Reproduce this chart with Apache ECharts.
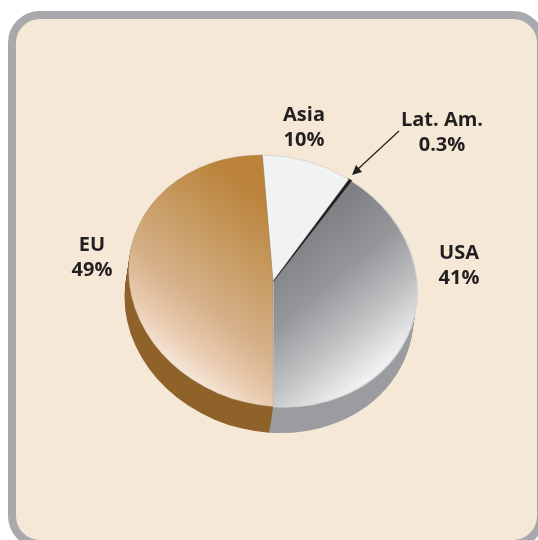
<!DOCTYPE html>
<html>
<head>
<meta charset="utf-8">
<style>
html, body { margin: 0; padding: 0; background: #fff; overflow: hidden; }
#chart { width: 538px; height: 540px; }
</style>
<script src="https://cdn.jsdelivr.net/npm/echarts@6/dist/echarts.min.js"></script>
</head>
<body>
<div id="chart"></div>
<script>
// 数据
var names = ['USA', 'Lat. Am.', 'Asia', 'EU'];
var shares = [41, 0.3, 10, 49];
var shareLabels = ['41%', '0.3%', '10%', '49%'];

var total = shares.reduce(function (a, b) { return a + b; }, 0);
var START_ANGLE = 167; // 从上方顺时针量, 切片逆时针排
var cx = 273, cy = 281, rx = 145.8, ry = 124.5, tilt = -15 * Math.PI / 180;
var depthX = -4, depthY = 26;

// 渐变用 global 坐标, 即扇形自身的局部坐标
var tops = [
	{ type: 'linear', global: true, x: -15, y: -8, x2: 121, y2: 75, colorStops: [
		{ offset: 0, color: '#808185' }, { offset: 0.36, color: '#96979a' },
		{ offset: 0.68, color: '#bfc0c2' }, { offset: 1, color: '#f1f1f2' }] },
	'#231f20',
	'#f1f2f2',
	{ type: 'linear', global: true, x: 30, y: -61, x2: -73, y2: 148, colorStops: [
		{ offset: 0, color: '#bb833b' }, { offset: 0.29, color: '#c69a60' },
		{ offset: 0.58, color: '#d5b088' }, { offset: 0.78, color: '#e9cbaf' },
		{ offset: 1, color: '#fdf6f1' }] }
];
var sides = ['#9a9c9f', '#9a9c9f', '#9a9c9f', '#8f6229'];
var rims = ['#d4d5d6', '#231f20', 'rgba(160,160,160,0.5)', 'rgba(160,130,90,0.5)'];
var rimWidths = [1.2, 1.6, 0.6, 0.6];

function sliceAngles(idx) {
	var before = 0;
	for (var i = 0; i < idx; i++) before += shares[i];
	var a0 = START_ANGLE - before / total * 360;
	var a1 = a0 - shares[idx] / total * 360;
	// zrender 角度: 从 +x 顺时针, 这里 a1 -> a0 是顺时针
	return { start: (a1 - 90) * Math.PI / 180, end: (a0 - 90) * Math.PI / 180 };
}

function sector(idx, dx, dy, style) {
	var a = sliceAngles(idx);
	return {
		type: 'sector',
		x: cx + dx, y: cy + dy,
		scaleY: ry / rx,
		rotation: tilt,
		shape: { cx: 0, cy: 0, r0: 0, r: rx, startAngle: a.start, endAngle: a.end },
		style: style
	};
}

function renderSide(params, api) {
	var idx = params.dataIndex, kids = [];
	// 厚度: 一层层往下叠
	for (var i = 13; i >= 1; i--) {
		kids.push(sector(idx, depthX * i / 13, depthY * i / 13, { fill: sides[idx] }));
	}
	return { type: 'group', children: kids };
}

function renderTop(params, api) {
	var idx = params.dataIndex;
	return sector(idx, 0, 0, { fill: tops[idx], stroke: rims[idx], lineWidth: rimWidths[idx] });
}

function twoLines(i, x, y) {
	var st = { fontFamily: '"Open Sans"', fontWeight: 'bold', fontSize: 20, fill: '#231f20', align: 'center', verticalAlign: 'middle' };
	return [
		{ type: 'text', x: x, y: y, z: 20, style: Object.assign({ text: names[i] }, st) },
		{ type: 'text', x: x, y: y + 25, z: 20, style: Object.assign({ text: shareLabels[i] }, st) }
	];
}

var myChart = echarts.init(document.getElementById('chart'), null, { renderer: 'canvas' });
var option = {
	animation: false,
	graphic: [
		{ type: 'rect', z: -10, shape: { x: 12, y: 15, width: 529, height: 529, r: 28 },
			style: { fill: '#f5e8d6', stroke: '#a7a9ac', lineWidth: 8 } },
		{ type: 'line', z: 20, shape: { x1: 399, y1: 131, x2: 358, y2: 169 }, style: { stroke: '#231f20', lineWidth: 1.2 } },
		{ type: 'polygon', z: 20, shape: { points: [[352, 175], [356, 165], [362, 172]] }, style: { fill: '#231f20' } }
	].concat(twoLines(2, 304, 115), twoLines(1, 442, 120), twoLines(0, 459, 253), twoLines(3, 92, 245)),
	series: [
		{ type: 'custom', coordinateSystem: 'none', data: shares, renderItem: renderSide, silent: true, z: 1 },
		{ type: 'custom', coordinateSystem: 'none', data: shares, renderItem: renderTop, silent: true, z: 2 }
	]
};
option && myChart.setOption(option);
</script>
</body>
</html>
